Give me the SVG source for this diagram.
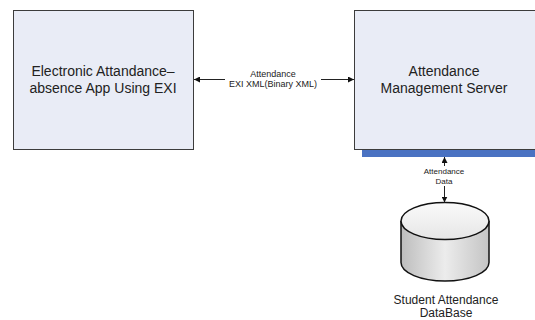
<svg xmlns="http://www.w3.org/2000/svg" width="535" height="320" viewBox="0 0 535 320">
<style>
.box{fill:#e9ecf6;stroke:#3c3c3c;stroke-width:1}
.t{font-family:"Liberation Sans",Arial,sans-serif;fill:#222;text-anchor:middle}
.big{font-size:14px}
.sm{font-size:9px}
.xs{font-size:8px}
.ln{stroke:#222;stroke-width:1;fill:none}
</style>
<defs>
<marker id="ah" viewBox="0 0 8 8" refX="8" refY="4" markerWidth="6" markerHeight="6" orient="auto-start-reverse" markerUnits="userSpaceOnUse">
<path d="M0,0 L8,4 L0,8 z" fill="#111"/>
</marker>
<linearGradient id="body" x1="0" y1="0" x2="1" y2="0">
<stop offset="0" stop-color="#bdbdbd"/>
<stop offset="0.5" stop-color="#ececec"/>
<stop offset="1" stop-color="#c4c4c4"/>
</linearGradient>
<linearGradient id="top" x1="0" y1="0" x2="0" y2="1">
<stop offset="0" stop-color="#fafafa"/>
<stop offset="1" stop-color="#e6e6e6"/>
</linearGradient>
</defs>
<rect width="535" height="320" fill="#fff"/>
<g id="app">
<rect class="box" x="13.5" y="10.5" width="180" height="139"/>
<text class="t big" x="103" y="76">Electronic Attandance–</text>
<text class="t big" x="103" y="93">absence App Using EXI</text>
</g>
<g id="server">
<rect x="362" y="149" width="173" height="8" fill="#4a72c2"/>
<rect class="box" x="354.5" y="10.5" width="181" height="139"/>
<text class="t big" x="444" y="76">Attendance</text>
<text class="t big" x="444" y="93">Management Server</text>
</g>
<g id="database">
<path d="M401,221 V262.5 A44,18.5 0 0 0 489,262.5 V221" fill="url(#body)" stroke="#111" stroke-width="1.5"/>
<ellipse cx="445" cy="221" rx="44" ry="18.5" fill="url(#top)" stroke="#111" stroke-width="1.5"/>
<text class="t" font-size="12" x="446" y="304">Student Attendance</text>
<text class="t" font-size="12" x="446" y="317">DataBase</text>
</g>
<g id="connectors">
<line class="ln" x1="225" y1="79.5" x2="194" y2="79.5" marker-end="url(#ah)"/>
<line class="ln" x1="321" y1="79.5" x2="354" y2="79.5" marker-end="url(#ah)"/>
<text class="t sm" x="273" y="76.5">Attendance</text>
<text class="t sm" x="273" y="86.5">EXI XML(Binary XML)</text>
<line class="ln" x1="444.5" y1="166" x2="444.5" y2="157" marker-end="url(#ah)"/>
<line class="ln" x1="444.5" y1="186" x2="444.5" y2="202.5" marker-end="url(#ah)"/>
<text class="t xs" x="444" y="174">Attendance</text>
<text class="t xs" x="444" y="184">Data</text>
</g>
</svg>
